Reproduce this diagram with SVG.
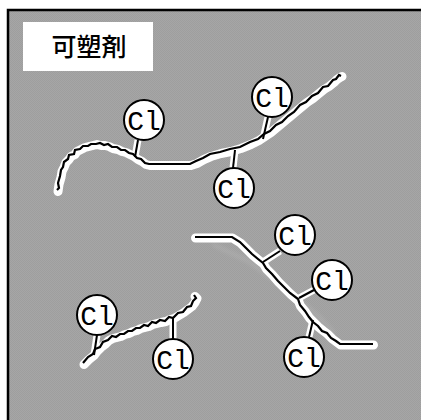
<svg xmlns="http://www.w3.org/2000/svg" width="421" height="420" viewBox="0 0 421 420">
  <defs>
    <style>
      .halo { fill: none; stroke: #ffffff; stroke-width: 9; stroke-linejoin: round; stroke-linecap: round; }
      .chain { fill: none; stroke: #000000; stroke-width: 2.2; stroke-linejoin: miter; stroke-linecap: butt; }
      .stub-halo { stroke: #ffffff; stroke-width: 7; stroke-linecap: butt; }
      .stub { stroke: #000000; stroke-width: 2; }
      .atom circle { fill: #ffffff; stroke: #000000; stroke-width: 2; }
      .atom text { font-family: "Liberation Mono", "DejaVu Sans Mono", monospace; font-size: 28px; fill: #000000; text-anchor: middle; }
      .label { font-family: "Noto Sans CJK JP", "Noto Sans CJK SC", sans-serif; font-size: 25px; font-weight: 500; fill: #000000; text-anchor: middle; }
    </style>
    <pattern id="grain" width="2" height="2" patternUnits="userSpaceOnUse">
      <rect width="2" height="2" fill="#a6a6a6"/>
      <rect width="1" height="1" fill="#9e9e9e"/>
      <rect x="1" y="1" width="1" height="1" fill="#9e9e9e"/>
    </pattern>
    <filter id="soft" x="-10%" y="-10%" width="120%" height="120%">
      <feGaussianBlur stdDeviation="2"/>
    </filter>
  </defs>

  <!-- panel -->
  <rect x="8" y="10" width="420" height="420" fill="url(#grain)" stroke="#000000" stroke-width="2.5"/>

  <!-- title -->
  <g id="title">
    <rect x="23" y="22" width="130" height="49" fill="#ffffff"/>
    <text class="label" x="89" y="56">可塑剤</text>
  </g>

  <!-- faint trace beside the right chain -->
  <path d="M212,244 L250,262 L290,292 L320,318 L334,334" fill="none" stroke="#c0c0c0" stroke-width="3" opacity="0.45" filter="url(#soft)"/>

  <g id="connectors">
    <!-- stubs: halos -->
    <g class="stub-halo">
      <line x1="138" y1="140" x2="135" y2="157"/>
      <line x1="268" y1="117" x2="263" y2="139"/>
      <line x1="235" y1="150" x2="233" y2="168"/>
      <line x1="280" y1="251" x2="263" y2="262"/>
      <line x1="314" y1="290" x2="299" y2="298"/>
      <line x1="309" y1="337" x2="313" y2="320"/>
      <line x1="97" y1="335" x2="94" y2="355"/>
      <line x1="173" y1="339" x2="173" y2="318"/>
    </g>

    <!-- chain halos -->
    <path class="halo" transform="translate(1,1.5)" d="M57,190 L58,183 L60,176 L61,170 L63,166 L65,161 L68,158 L70,155 L74,153 L76,150 L80,148 L84,146 L88,145 L92,144 L96,143 L100,144 L104,144 L108,145 L112,147 L117,148 L121,150 L125,151 L129,153 L133,155 L137,158 L141,160 L145,163 L149,164 L190,164 L196,162 L203,158 L210,155 L220,152 L230,150 L240,147 L250,143 L258,139 L264,135 L270,131 L276,126 L282,121 L288,116 L294,111 L300,106 L306,101 L312,97 L318,92 L323,88 L328,85 L333,81 L336,78 L339,76 L341,75"/>
    <path class="halo" transform="translate(0.5,1)" d="M195,237 L232,237 L240,242 L246,248 L252,254 L258,259 L263,263 L266,268 L272,274 L278,281 L284,287 L290,293 L298,300 L300,305 L305,311 L309,317 L314,322 L318,326 L323,330 L327,333 L332,338 L336,341 L340,344 L373,344"/>
    <path class="halo" transform="translate(1,1.5)" d="M83,363 L88,358 L93,354 L96,350 L100,346 L104,343 L108,339 L112,337 L116,336 L120,335 L124,333 L128,332 L132,330 L136,329 L140,327 L144,326 L148,325 L152,323 L156,322 L160,321 L165,320 L169,318 L173,317 L178,314 L183,311 L187,308 L191,305 L194,301 L196,297 L194,295"/>

    <!-- stubs: lines -->
    <g class="stub">
      <line x1="138" y1="140" x2="135" y2="157"/>
      <line x1="268" y1="117" x2="263" y2="139"/>
      <line x1="235" y1="150" x2="233" y2="168"/>
      <line x1="280" y1="251" x2="263" y2="262"/>
      <line x1="314" y1="290" x2="299" y2="298"/>
      <line x1="309" y1="337" x2="313" y2="320"/>
      <line x1="97" y1="335" x2="94" y2="355"/>
      <line x1="173" y1="339" x2="173" y2="318"/>
    </g>

    <!-- chains -->
    <path class="chain" d="M57,190 L59,188 L58,183 L60,176 L61,170 L63,167 L64,162 L68,159 L69,155 L74,154 L75,150 L80,149 L83,146 L88,146 L91,144 L96,144 L100,143 L104,145 L108,144 L112,147 L117,147 L121,150 L125,150 L129,153 L133,154 L137,158 L141,159 L145,163 L149,164 L190,164 L196,161 L203,158 L210,154 L220,152 L230,149 L240,147 L250,142 L258,139 L264,134 L270,131 L276,125 L282,122 L288,116 L294,112 L300,105 L306,102 L312,96 L318,93 L323,87 L328,86 L333,80 L336,79 L339,75 L341,76"/>
    <path class="chain" d="M195,237 L232,237 L240,242 L246,248 L252,254 L258,259 L263,263 L266,268 L272,274 L278,281 L284,287 L290,293 L298,299 L300,305 L305,311 L309,317 L313,322 L318,326 L322,331 L327,333 L331,338 L336,341 L340,344 L373,344"/>
    <path class="chain" d="M83,363 L88,357 L93,354 L95,349 L100,347 L103,342 L108,340 L112,336 L116,337 L120,334 L124,334 L128,331 L132,331 L136,328 L140,328 L144,325 L148,326 L152,322 L156,323 L160,320 L165,321 L169,317 L173,318 L178,313 L183,312 L187,307 L191,306 L193,301 L196,298 L194,295"/>
  </g>

  <!-- chlorine atoms -->
  <g id="cl1" class="atom"><circle cx="144" cy="120" r="20"/><text x="144" y="130">Cl</text></g>
  <g id="cl2" class="atom"><circle cx="272" cy="97" r="20"/><text x="272" y="107">Cl</text></g>
  <g id="cl3" class="atom"><circle cx="234" cy="188" r="20"/><text x="234" y="198">Cl</text></g>
  <g id="cl4" class="atom"><circle cx="295" cy="235" r="20"/><text x="295" y="245">Cl</text></g>
  <g id="cl5" class="atom"><circle cx="332" cy="280" r="20"/><text x="332" y="290">Cl</text></g>
  <g id="cl6" class="atom"><circle cx="304" cy="357" r="20"/><text x="304" y="367">Cl</text></g>
  <g id="cl7" class="atom"><circle cx="97" cy="315" r="20"/><text x="97" y="325">Cl</text></g>
  <g id="cl8" class="atom"><circle cx="173" cy="359" r="20"/><text x="173" y="369">Cl</text></g>
</svg>
